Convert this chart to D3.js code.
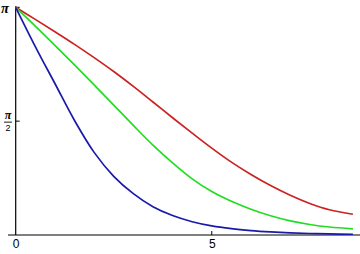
<!DOCTYPE html>
<html>
<head>
<meta charset="utf-8">
<script src="https://cdn.jsdelivr.net/npm/d3@7"></script>
<style>
  body { margin: 0; background: #fff; }
  svg { display: block; }
</style>
</head>
<body>
<div class="holder"></div>
<script>
const xs = [0, 0.5, 1, 1.5, 2, 2.5, 3, 3.5, 4, 4.5, 5, 5.5, 6, 6.5, 7, 7.5, 8, 8.6];
const redValues = [3.1416, 2.975, 2.805, 2.63, 2.447, 2.255, 2.05, 1.835, 1.618, 1.405, 1.198, 1.005, 0.835, 0.682, 0.548, 0.435, 0.348, 0.286];
const greenValues = [3.1416, 2.882, 2.617, 2.347, 2.072, 1.792, 1.512, 1.24, 0.995, 0.775, 0.60, 0.465, 0.355, 0.265, 0.195, 0.145, 0.11, 0.085];
const blueValues = [3.1416, 2.60, 2.09, 1.58, 1.14, 0.81, 0.57, 0.39, 0.268, 0.183, 0.125, 0.087, 0.061, 0.043, 0.030, 0.021, 0.015, 0.010];
const xTicks = [0, 5];
const yTicks = [Math.PI / 2, Math.PI];

const width = 360;
const height = 254;

const svg = d3
  .select(".holder")
  .append("svg")
  .attr("width", width)
  .attr("height", height);

const xScale = d3.scaleLinear().domain([0, 8.78]).range([15.7, 360]);
const yScale = d3.scaleLinear().domain([0, Math.PI]).range([235, 7.3]);

// axes
const xAxis = d3.axisBottom(xScale).tickValues(xTicks).tickSize(0).tickFormat(d3.format("d"));
svg
  .append("g")
  .attr("transform", `translate(0, ${yScale(0)})`)
  .call(xAxis)
  .call((g) => g.select(".domain").remove())
  .call((g) =>
    g
      .selectAll("text")
      .attr("dy", "0.85em")
      .style("font-family", "Liberation Sans")
      .style("font-size", "12px")
      .style("fill", "#000")
  );

svg
  .append("line")
  .attr("x1", 8)
  .attr("x2", width)
  .attr("y1", yScale(0))
  .attr("y2", yScale(0))
  .attr("stroke", "#000")
  .attr("stroke-width", 1.2);

svg
  .append("line")
  .attr("x1", xScale(0))
  .attr("x2", xScale(0))
  .attr("y1", yScale(Math.PI) - 1)
  .attr("y2", yScale(0))
  .attr("stroke", "#000")
  .attr("stroke-width", 1.2);

// inward ticks
svg
  .selectAll(".xtick")
  .data(xTicks.filter((d) => d > 0))
  .enter()
  .append("line")
  .attr("x1", (d) => xScale(d))
  .attr("x2", (d) => xScale(d))
  .attr("y1", yScale(0))
  .attr("y2", yScale(0) - 4)
  .attr("stroke", "#000");

svg
  .selectAll(".ytick")
  .data(yTicks)
  .enter()
  .append("line")
  .attr("x1", xScale(0))
  .attr("x2", xScale(0) + 4)
  .attr("y1", (d) => yScale(d))
  .attr("y2", (d) => yScale(d))
  .attr("stroke", "#000");

// y labels
svg
  .append("text")
  .attr("x", 1)
  .attr("y", yScale(Math.PI) + 6)
  .style("font-family", "Liberation Serif")
  .style("font-size", "14.5px")
  .style("font-weight", "bold")
  .style("font-style", "italic")
  .text("π");

const half = svg.append("g").attr("transform", `translate(8, ${yScale(Math.PI / 2)})`);
half
  .append("text")
  .attr("text-anchor", "middle")
  .attr("y", -2)
  .style("font-family", "Liberation Serif")
  .style("font-size", "12px")
  .style("font-weight", "bold")
  .style("font-style", "italic")
  .text("π");
half
  .append("line")
  .attr("x1", -4)
  .attr("x2", 4)
  .attr("y1", 1)
  .attr("y2", 1)
  .attr("stroke", "#000")
  .attr("stroke-width", 0.9);
half
  .append("text")
  .attr("text-anchor", "middle")
  .attr("y", 10)
  .style("font-family", "Liberation Sans")
  .style("font-size", "9px")
  .text("2");

// curves
const line = d3
  .line()
  .x((d) => xScale(d[0]))
  .y((d) => yScale(d[1]))
  .curve(d3.curveCatmullRom.alpha(0.5));

const series = [
  { values: redValues, color: "#cc2222" },
  { values: greenValues, color: "#22dd22" },
  { values: blueValues, color: "#1a1aaa" },
];

series.forEach((s) => {
  svg
    .append("path")
    .datum(xs.map((x, i) => [x, s.values[i]]))
    .attr("d", line)
    .attr("fill", "none")
    .attr("stroke", s.color)
    .attr("stroke-width", 1.7);
});
</script>
</body>
</html>
